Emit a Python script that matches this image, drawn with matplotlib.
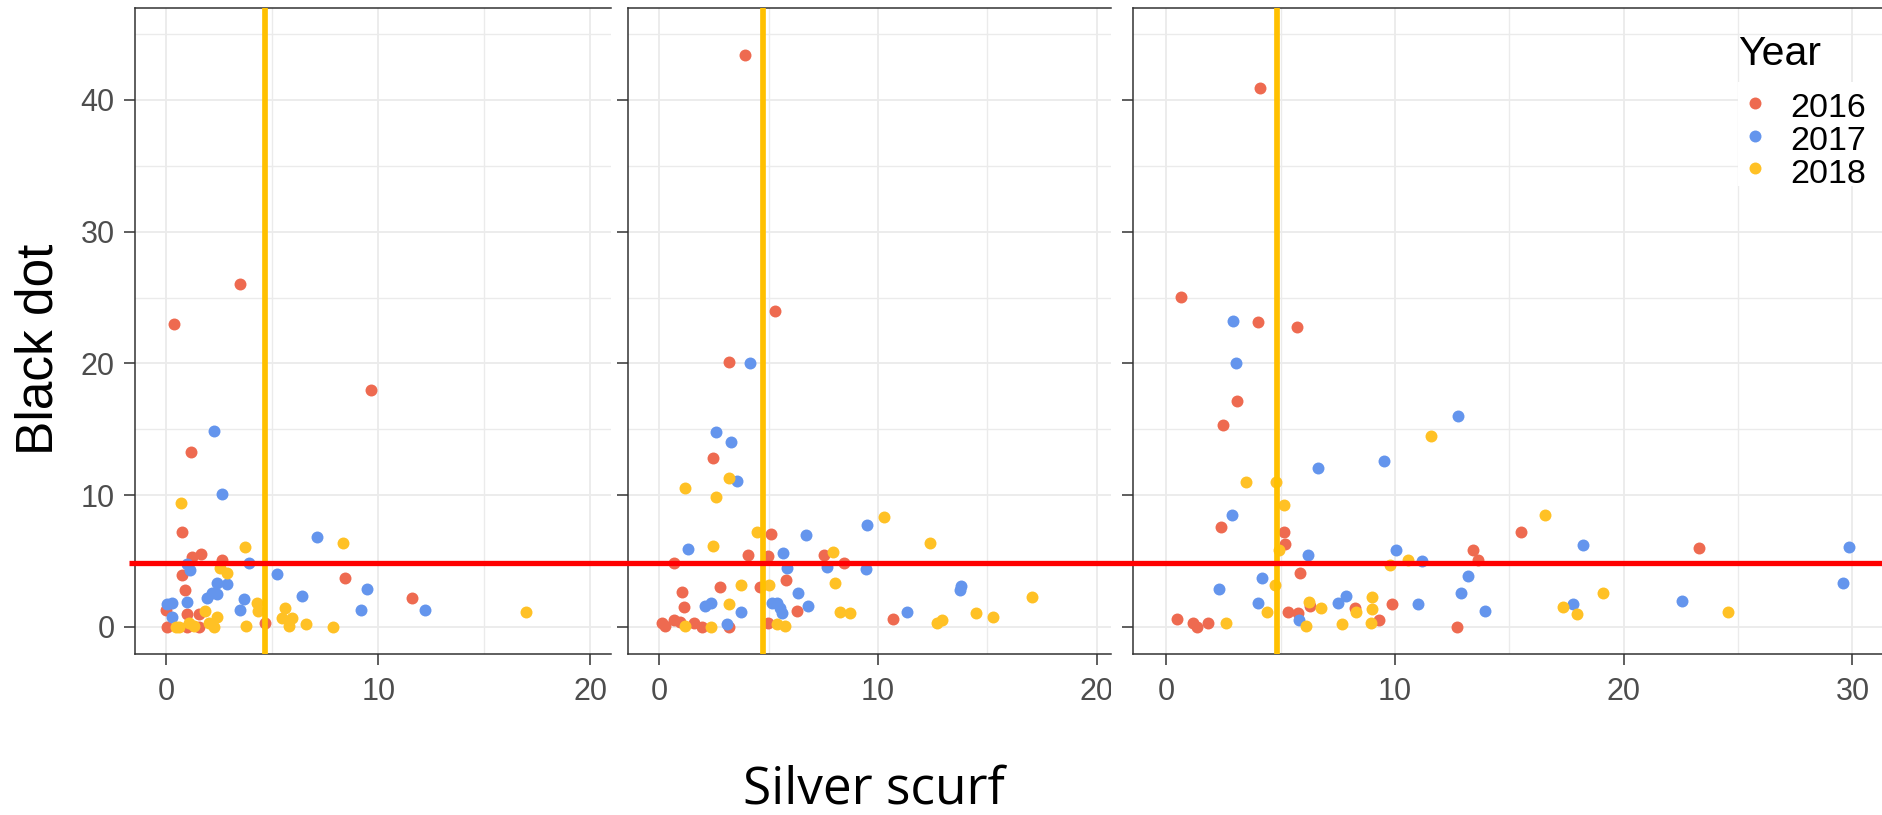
import matplotlib
matplotlib.use('Agg')
import matplotlib.pyplot as plt
from matplotlib.lines import Line2D
from matplotlib.patches import Rectangle
from matplotlib.ticker import MultipleLocator
from matplotlib.transforms import Bbox, TransformedBbox, blended_transform_factory

plt.rcParams['font.family'] = 'Liberation Sans'

years = ['2016', '2017', '2018']
year_colors = ['#EE6A50', '#6495ED', '#FFC125']

# ---- panel 1 ----
p1_2016_x = [0.38, 3.46, 9.64, 1.15, 0.76, 1.23, 1.62, 2.64, 0.76, 0.88, 0.99, 1.54, 0.05, 0.99, 1.54, 0.0, 4.64, 8.43, 11.58]
p1_2016_y = [23.0, 26.0, 17.95, 13.3, 7.2, 5.3, 5.5, 5.07, 3.9, 2.8, 1.0, 1.0, 0.0, 0.0, 0.0, 1.3, 0.3, 3.67, 2.16]
p1_2017_x = [2.26, 2.64, 7.12, 3.9, 1.0, 1.1, 5.24, 9.45, 9.2, 2.4, 2.88, 2.4, 2.17, 1.9, 0.96, 0.05, 0.28, 0.28, 3.67, 3.48, 6.39, 12.2]
p1_2017_y = [14.9, 10.05, 6.79, 4.86, 4.8, 4.3, 3.98, 2.9, 1.27, 3.34, 3.24, 2.48, 2.6, 2.15, 1.9, 1.72, 1.8, 0.76, 2.08, 1.27, 2.36, 1.27]
p1_2018_x = [0.71, 3.71, 8.33, 2.53, 2.88, 4.26, 4.33, 5.58, 5.48, 5.94, 5.79, 6.58, 7.88, 3.75, 1.81, 2.4, 2.25, 2.02, 1.07, 1.31, 0.44, 0.6, 16.95]
p1_2018_y = [9.42, 6.03, 6.33, 4.43, 4.1, 1.82, 1.22, 1.44, 0.64, 0.64, 0.04, 0.2, 0.0, 0.08, 1.22, 0.76, 0.0, 0.3, 0.3, 0.05, 0.0, 0.0, 1.14]

# ---- panel 2 ----
p2_2016_x = [3.93, 5.3, 3.17, 2.44, 5.11, 4.04, 4.96, 7.52, 8.43, 0.66, 5.81, 2.79, 4.62, 1.04, 1.12, 6.3, 0.12, 0.27, 0.66, 0.97, 1.57, 1.95, 3.17, 4.98, 10.7]
p2_2016_y = [43.4, 24.0, 20.1, 12.8, 7.04, 5.44, 5.37, 5.44, 4.86, 4.81, 3.55, 3.04, 3.0, 2.66, 1.47, 1.22, 0.3, 0.05, 0.5, 0.37, 0.3, 0.0, 0.0, 0.3, 0.56]
p2_2017_x = [4.16, 2.61, 3.29, 3.55, 1.3, 6.72, 5.66, 5.84, 7.67, 9.47, 9.5, 6.34, 6.79, 2.1, 2.36, 3.74, 3.1, 5.15, 5.37, 5.52, 5.6, 13.78, 13.75, 11.31]
p2_2017_y = [20.05, 14.76, 14.0, 11.06, 5.9, 6.96, 5.57, 4.43, 4.56, 4.36, 7.72, 2.53, 1.57, 1.6, 1.77, 1.14, 0.18, 1.77, 1.82, 1.39, 1.01, 3.1, 2.8, 1.14]
p2_2018_x = [1.19, 3.17, 2.61, 4.47, 2.44, 7.94, 3.74, 5.0, 8.05, 3.17, 8.28, 8.73, 1.19, 2.36, 5.38, 5.76, 10.27, 12.4, 12.68, 12.91, 14.48, 15.27, 17.03]
p2_2018_y = [10.55, 11.3, 9.87, 7.2, 6.13, 5.65, 3.17, 3.17, 3.29, 1.7, 1.14, 1.01, 0.05, 0.0, 0.18, 0.05, 8.35, 6.33, 0.26, 0.51, 1.02, 0.71, 2.23]

# ---- panel 3 ----
p3_2016_x = [4.08, 0.66, 4.01, 5.71, 3.1, 2.48, 2.4, 5.13, 5.2, 5.83, 0.47, 1.17, 1.34, 1.82, 5.32, 5.76, 6.27, 8.24, 9.3, 9.88, 13.4, 13.64, 15.51, 23.3, 12.7]
p3_2016_y = [40.9, 25.06, 23.16, 22.78, 17.16, 15.3, 7.6, 7.2, 6.25, 4.05, 0.56, 0.3, 0.0, 0.25, 1.14, 1.01, 1.6, 1.39, 0.5, 1.7, 5.82, 5.06, 7.21, 6.0, 0.0]
p3_2017_x = [2.92, 3.03, 12.77, 6.63, 9.5, 2.89, 6.2, 10.06, 4.2, 2.29, 4.01, 5.8, 7.51, 7.84, 11.19, 13.18, 12.87, 11.02, 13.95, 18.23, 17.77, 22.55, 29.85, 29.6]
p3_2017_y = [23.2, 20.0, 16.0, 12.07, 12.6, 8.48, 5.44, 5.82, 3.67, 2.86, 1.82, 0.5, 1.82, 2.36, 5.01, 3.85, 2.53, 1.7, 1.22, 6.2, 1.72, 1.97, 6.03, 3.3]
p3_2018_x = [3.47, 4.78, 5.13, 4.91, 4.74, 4.4, 2.6, 6.1, 6.24, 6.78, 7.7, 8.28, 9.01, 9.01, 8.94, 9.77, 10.58, 11.56, 16.56, 19.11, 17.36, 17.94, 24.55]
p3_2018_y = [10.96, 10.96, 9.24, 5.82, 3.17, 1.14, 0.3, 0.05, 1.85, 1.44, 0.18, 1.14, 2.23, 1.34, 0.25, 4.68, 5.06, 14.48, 8.48, 2.53, 1.47, 0.94, 1.14]

# thresholds
silver_cut = [4.68, 4.74, 4.84]   # one per panel
black_cut = 4.81

panel_x = [[p1_2016_x, p1_2017_x, p1_2018_x],
           [p2_2016_x, p2_2017_x, p2_2018_x],
           [p3_2016_x, p3_2017_x, p3_2018_x]]
panel_y = [[p1_2016_y, p1_2017_y, p1_2018_y],
           [p2_2016_y, p2_2017_y, p2_2018_y],
           [p3_2016_y, p3_2017_y, p3_2018_y]]

x_ticks = [[0, 10, 20], [0, 10, 20], [0, 10, 20, 30]]
y_ticks = [0, 10, 20, 30, 40]

W, H = 1882, 815
fig = plt.figure(figsize=(W / 100, H / 100), dpi=100, facecolor='white')

# panel boxes in pixels (left, right) and shared top/bottom
boxes = [(134.7, 611.0), (627.5, 1110.7), (1133.0, 1900.0)]
xlims = [(-1.49, 20.98), (-1.45, 20.64), (-1.46, 32.08)]
top, bottom = 7.8, 653.5
ylim = (-2.03, 47.0)

border = '#333333'
axes = []
for i, (l, r) in enumerate(boxes):
    ax = fig.add_axes([l / W, 1 - bottom / H, (r - l) / W, (bottom - top) / H])
    ax.set_xlim(xlims[i])
    ax.set_ylim(ylim)
    ax.set_xticks(x_ticks[i])
    ax.set_yticks(y_ticks)
    ax.xaxis.set_minor_locator(MultipleLocator(5))
    ax.yaxis.set_minor_locator(MultipleLocator(5))
    ax.grid(which='major', color='#EBEBEB', lw=1.3, zorder=0)
    ax.grid(which='minor', color='#EBEBEB', lw=1.0, zorder=0)
    ax.set_axisbelow(True)
    for s in ['top', 'left', 'bottom']:
        ax.spines[s].set_color(border)
        ax.spines[s].set_linewidth(1.1)
    ax.spines['right'].set_visible(False)
    ax.tick_params(which='major', direction='out', length=7.9, width=1.1, color=border,
                   labelcolor='#4D4D4D', labelsize=22)
    ax.tick_params(axis='x', which='major', pad=9)
    ax.tick_params(axis='y', which='major', pad=6.5, labelleft=(i == 0))
    ax.tick_params(which='minor', length=0)

    for j in range(3):
        ax.scatter(panel_x[i][j], panel_y[i][j], s=74, color=year_colors[j],
                   linewidths=0, zorder=3)
    ax.axvline(silver_cut[i], color='#FFC000', lw=4.1, zorder=4)

    # tick labels cut off at the panel's right edge
    clip = TransformedBbox(Bbox([[0, 0], [r / W, 1]]), fig.transFigure)
    for lab in ax.get_xticklabels():
        lab.set_clip_on(True)
        lab.set_clip_box(clip)
    axes.append(ax)

# black dot threshold running across all panels
tr = blended_transform_factory(fig.transFigure, axes[0].transData)
fig.add_artist(Line2D([128.6 / W, 1.0], [black_cut, black_cut], transform=tr,
                      color='#FF0000', lw=3.8, solid_capstyle='butt', zorder=10))

# legend
fig.add_artist(Rectangle((1738 / W, 1 - 186 / H), (W - 1738) / W, 104 / H,
                         transform=fig.transFigure, facecolor='white', edgecolor='none', zorder=5))
fig.text(1738 / W, 1 - 65 / H, 'Year', fontsize=29.5, color='black', va='baseline', ha='left', zorder=6)
leg_mark_y = [102.8, 135.7, 168.3]
leg_text_y = [117.3, 150.0, 182.6]
for yr, col, ym, yt in zip(years, year_colors, leg_mark_y, leg_text_y):
    fig.add_artist(Line2D([1755 / W], [1 - ym / H], marker='o', ms=8.6, mew=0, color=col,
                          lw=0, transform=fig.transFigure, zorder=6))
    fig.text(1790.5 / W, 1 - yt / H, yr, fontsize=24.5, color='black', va='baseline', ha='left', zorder=6)

# axis titles
fig.text(38.7 / W, 1 - 349 / H, 'Black dot', rotation=90, fontsize=37, ha='center', va='center')
fig.text(874 / W, 1 - 803 / H, 'Silver scurf', fontsize=37, family='Open Sans', ha='center', va='baseline')

fig.savefig('out.png', dpi=100, facecolor='white')
